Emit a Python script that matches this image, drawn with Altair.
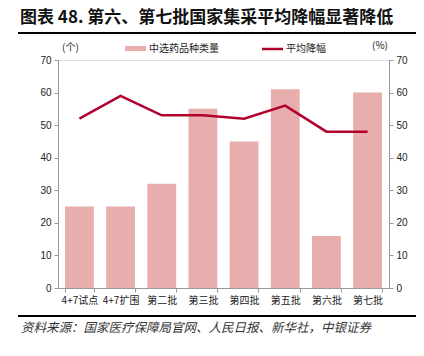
import altair as alt
import pandas as pd

categories = ["4+7试点", "4+7扩围", "第二批", "第三批", "第四批", "第五批", "第六批", "第七批"]
drug_counts = [25, 25, 32, 55, 45, 61, 16, 60]
avg_cut = [52, 59, 53, 53, 52, 56, 48, 48]

df = pd.DataFrame({"批次": categories, "中选药品种类量": drug_counts, "平均降幅": avg_cut})

W, H = 331, 228
FONT = "Liberation Sans"
CJK = "Noto Sans CJK SC"
BAR = "#E8ADAD"
LINE = "#B3002D"

xenc = alt.X("批次:N", sort=categories, title=None,
             scale=alt.Scale(paddingInner=0.3, paddingOuter=0.17),
             axis=alt.Axis(labelAngle=0, labelFont=CJK, labelFontSize=10, labelColor="#222222",
                           tickBand="extent", tickColor="#999999", domainColor="#999999",
                           tickSize=4, labelPadding=3))

yscale = alt.Scale(domain=[0, 70])

bars = alt.Chart(df).mark_bar(color=BAR).encode(
    x=xenc,
    y=alt.Y("中选药品种类量:Q", scale=yscale, title=None,
            axis=alt.Axis(values=list(range(0, 71, 10)), grid=False, labelFont=FONT,
                          labelFontSize=10, labelColor="#222222", tickColor="#999999",
                          domainColor="#999999", tickSize=4, labelPadding=3)),
)

line = alt.Chart(df).mark_line(color=LINE, strokeWidth=2.5).encode(
    x=alt.X("批次:N", sort=categories),
    y=alt.Y("平均降幅:Q", scale=yscale, title=None,
            axis=alt.Axis(orient="right", values=list(range(0, 71, 10)), grid=False,
                          labelFont=FONT, labelFontSize=10, labelColor="#222222",
                          tickColor="#999999", domainColor="#999999", tickSize=4, labelPadding=3)),
)

deco = pd.DataFrame({"d": [0]})
base = alt.Chart(deco)

def txt(s, x, y, size=10, font=CJK, weight="normal", style="normal", align="left", color="#222222"):
    return base.mark_text(text=s, font=font, fontSize=size, fontWeight=weight, fontStyle=style,
                          align=align, baseline="middle", color=color).encode(
        x=alt.value(x), y=alt.value(y))

def rule(x1, x2, y, color="black", width=2):
    return base.mark_rule(color=color, strokeWidth=width).encode(
        x=alt.value(x1), x2=alt.value(x2), y=alt.value(y))

title = txt("图表 48. 第六、第七批国家集采平均降幅显著降低", -38, -42, size=17, weight="bold", color="#111111")
top_rule = rule(-40, 360, -27)
bot_rule = rule(-40, 359, H + 28)
unit_l = txt("(个)", 4, -12, size=10)
unit_r = txt("(%)", 314, -14, size=10)
leg_bar = base.mark_rect(color=BAR).encode(x=alt.value(67), x2=alt.value(88), y=alt.value(-14), y2=alt.value(-9))
leg_bar_t = txt("中选药品种类量", 91, -11, size=10)
leg_line = base.mark_rule(color=LINE, strokeWidth=2.5).encode(x=alt.value(204), x2=alt.value(225), y=alt.value(-11))
leg_line_t = txt("平均降幅", 228, -11, size=10)
source = txt("资料来源：国家医疗保障局官网、人民日报、新华社，中银证券", -37, H + 40, size=12.5,
             style="italic", color="#333333")

chart = alt.layer(
    alt.layer(bars, line).resolve_scale(y="independent"),
    title, unit_l, unit_r, leg_bar, leg_bar_t, leg_line, leg_line_t, source, top_rule, bot_rule,
).properties(
    width=W, height=H,
    autosize=alt.AutoSizeParams(type="none"),
    padding={"left": 50, "top": 52, "right": 27, "bottom": 60},
).configure_view(stroke=None).configure(background="white")

chart.save("out.html", embed_options={"renderer": "svg", "actions": False})
